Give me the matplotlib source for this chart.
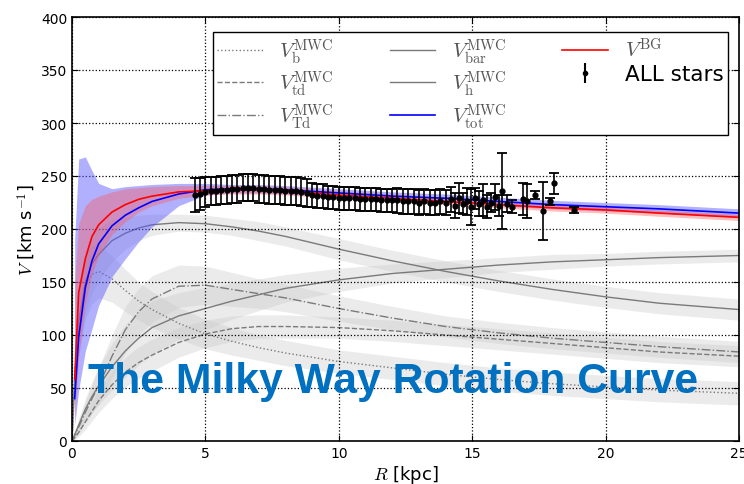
import numpy as np
import matplotlib
matplotlib.use("Agg")
import matplotlib.pyplot as plt
from matplotlib.lines import Line2D

plt.rcParams['mathtext.fontset'] = 'cm'
plt.rcParams['font.family'] = ['DejaVu Sans']

# Radial grid for the mass-model components [kpc]
R_grid = [0, 0.1, 0.25, 0.5, 0.75, 1, 1.5, 2, 2.5, 3, 4, 5, 6, 7, 8, 10, 12, 14, 16, 18, 20, 22, 25]

# Component circular velocities [km/s] and their half-widths
V_b   = [0, 60, 110, 145, 157, 160, 153, 142, 132, 124, 111, 101, 94, 88, 83, 75, 69, 63, 58, 54, 51, 48, 45]
V_td  = [0, 3, 8, 18, 28, 38, 53, 65, 74, 81, 93, 101, 106, 108, 108, 107, 104, 100, 96, 92, 88, 84, 80]
V_Td  = [0, 5, 13, 27, 40, 52, 80, 105, 122, 134, 146, 147, 143, 139, 135, 125, 116, 108, 102, 97, 93, 89, 84]
V_bar = [0, 60, 112, 150, 167, 176, 189, 196, 201, 204, 206, 205, 202, 198, 193, 181, 170, 160, 151, 143, 136, 130, 124]
V_h   = [0, 6, 15, 30, 42, 52, 70, 85, 97, 107, 118, 125, 132, 138, 144, 152, 158, 162, 166, 169, 171, 173, 175]

err_b   = [0, 20, 30, 30, 28, 25, 22, 20, 18, 17, 15, 14, 13, 12, 12, 11, 11, 11, 11, 11, 11, 11, 11]
err_td  = [0, 2, 4, 7, 9, 11, 13, 14, 15, 15, 14, 13, 12, 11, 11, 10, 10, 10, 10, 10, 10, 10, 10]
err_Td  = [0, 3, 6, 10, 14, 17, 20, 22, 22, 22, 20, 18, 16, 14, 13, 12, 11, 10, 10, 10, 10, 10, 10]
err_bar = [0, 20, 30, 30, 28, 25, 20, 15, 12, 10, 8, 8, 8, 9, 9, 10, 10, 10, 10, 10, 10, 10, 10]
err_h   = [0, 3, 6, 10, 14, 18, 22, 25, 25, 25, 22, 20, 17, 15, 13, 11, 9, 8, 7, 7, 6, 6, 6]

# Total model and Bayesian fit curves
R_fit   = [0.1, 0.25, 0.5, 0.75, 1, 1.5, 2, 2.5, 3, 4, 5, 6, 7, 8, 10, 12, 14, 16, 18, 20, 22, 25]
V_tot   = [40, 98, 145, 170, 186, 203, 213, 220, 226, 233, 237, 238, 238, 237, 234, 231, 229, 226, 223, 221, 219, 215]
tot_lo  = [15, 48, 85, 106, 128, 155, 172, 188, 202, 222, 232, 234, 234, 233, 230, 227, 225, 222, 219, 217, 215, 211]
tot_hi  = [190, 266, 268, 255, 243, 238, 240, 241, 242, 243, 243, 242, 242, 241, 238, 235, 233, 230, 227, 225, 223, 219]
V_BG    = [58, 140, 172, 193, 204, 216, 223, 228, 231, 235, 236, 237, 237, 236, 232, 229, 226, 223, 220, 218, 215, 211]
BG_lo   = [20, 80, 130, 158, 175, 195, 207, 216, 222, 229, 232, 233, 233, 232, 229, 226, 223, 220, 217, 215, 212, 208]
BG_hi   = [150, 205, 222, 228, 231, 235, 238, 239, 240, 241, 241, 241, 241, 240, 236, 233, 230, 227, 224, 221, 218, 214]

# Binned rotation-curve measurements
R_stars = [4.6, 4.8, 5.0, 5.2, 5.4, 5.6, 5.8, 6.0, 6.2, 6.4, 6.6, 6.8, 7.0, 7.2, 7.4, 7.6,
           7.8, 8.0, 8.2, 8.4, 8.6, 8.8, 9.0, 9.2, 9.4, 9.6, 9.8, 10.0, 10.2, 10.4, 10.6, 10.8,
           11.0, 11.2, 11.4, 11.6, 11.8, 12.0, 12.2, 12.4, 12.6, 12.8, 13.0, 13.2, 13.4, 13.6,
           13.8, 14.0, 14.2, 14.35, 14.5, 14.65, 14.8, 14.95, 15.1, 15.25, 15.4, 15.55, 15.7,
           15.85, 16.0, 16.1, 16.3, 16.5, 16.9, 17.05, 17.35, 17.65, 17.9, 18.05, 18.8]
V_stars = [232, 233, 235, 236, 236, 237, 237, 238, 238, 239, 239, 239, 238, 238, 237, 237,
           237, 236, 236, 236, 235, 234, 232, 231, 231, 230, 230, 229, 229, 229, 229, 228,
           228, 228, 228, 227, 227, 227, 227, 226, 226, 226, 225, 226, 225, 225,
           226, 225, 228, 222, 229, 224, 226, 221, 229, 224, 227, 221, 225,
           230, 222, 236, 224, 221, 228, 226, 232, 217, 226, 243, 218]
E_stars = [16, 15, 14, 13, 13, 13, 13, 13, 13, 13, 13, 13, 13, 13, 13, 13,
           13, 13, 13, 13, 13, 13, 11, 11, 11, 11, 11, 11, 11, 11, 11, 11,
           11, 11, 11, 11, 11, 11, 12, 12, 12, 12, 12, 12, 12, 12,
           12, 12, 12, 12, 14, 10, 13, 17, 10, 12, 15, 11, 9,
           12, 10, 36, 8, 6, 15, 16, 4, 27, 3, 10, 3]

x_ticks = [0, 5, 10, 15, 20, 25]
y_ticks = [0, 50, 100, 150, 200, 250, 300, 350, 400]

fig = plt.figure(figsize=(7.44, 4.85), dpi=100)
ax = fig.add_axes([72 / 744, 43 / 485, 667 / 744, 424 / 485])

gray = '#7a7a7a'
band_gray = '#c8c8c8'

components = [
    (V_b, err_b, ':'),
    (V_td, err_td, '--'),
    (V_Td, err_Td, '-.'),
    (V_bar, err_bar, '-'),
    (V_h, err_h, '-'),
]
Rg = np.array(R_grid)
for v, e, ls in components:
    v = np.array(v, float)
    e = np.array(e, float)
    ax.fill_between(Rg, v - e, v + e, color=band_gray, alpha=0.35, lw=0, zorder=1)
for v, e, ls in components:
    ax.plot(Rg, v, ls=ls, color=gray, lw=1.0, zorder=2)

ax.fill_between(R_fit, tot_lo, tot_hi, color='#5a5aff', alpha=0.48, lw=0, zorder=3)
ax.fill_between(R_fit, BG_lo, BG_hi, color='#ff5a5a', alpha=0.4, lw=0, zorder=3)
ax.plot(R_fit, V_tot, color='blue', lw=1.2, zorder=4)
ax.plot(R_fit, V_BG, color='red', lw=1.2, zorder=4)

ax.errorbar(R_stars, V_stars, yerr=E_stars, fmt='o', color='black', ms=3.5,
            elinewidth=1.2, capsize=3.8, capthick=1.3, zorder=5)

ax.set_xlim(0, 25)
ax.set_ylim(0, 400)
ax.set_xticks(x_ticks)
ax.set_yticks(y_ticks)
ax.tick_params(direction='in', top=True, right=True, labelsize=10, length=4)
ax.grid(True, color='black', linestyle=':', lw=0.9)
ax.set_axisbelow(False)
for s in ax.spines.values():
    s.set_linewidth(1.2)
    s.set_zorder(6)

ax.set_xlabel(r'$R$ [kpc]', fontsize=13, labelpad=2)
ax.set_ylabel(r'$V$ [km s$^{-1}$]', fontsize=13, labelpad=2)

handles = [
    Line2D([], [], color=gray, ls=':', lw=1.0),
    Line2D([], [], color=gray, ls='--', lw=1.0),
    Line2D([], [], color=gray, ls='-.', lw=1.0),
    Line2D([], [], color=gray, ls='-', lw=1.0),
    Line2D([], [], color=gray, ls='-', lw=1.0),
    Line2D([], [], color='blue', ls='-', lw=1.2),
    Line2D([], [], color='red', ls='-', lw=1.2),
]
labels = [
    r'$V_{\rm b}^{\rm MWC}$',
    r'$V_{\rm td}^{\rm MWC}$',
    r'$V_{\rm Td}^{\rm MWC}$',
    r'$V_{\rm bar}^{\rm MWC}$',
    r'$V_{\rm h}^{\rm MWC}$',
    r'$V_{\rm tot}^{\rm MWC}$',
    r'$V^{\rm BG}$',
]
eb = ax.errorbar([], [], yerr=[], fmt='o', color='black', ms=3, capsize=3)
handles.append(eb)
labels.append('ALL stars')

leg = ax.legend(handles, labels, ncol=3, loc='upper left',
                bbox_to_anchor=(0.211, 0.7, 0.772, 0.2646), mode='expand',
                fontsize=15, frameon=True, fancybox=False, edgecolor='black',
                framealpha=1.0, handlelength=2.2, handletextpad=0.8,
                borderaxespad=0.0, labelspacing=0.15, borderpad=0.2)
leg.get_frame().set_linewidth(1.0)
leg.set_zorder(7)
for t in leg.get_texts()[:-1]:
    t.set_color('#555555')
leg.get_texts()[-1].set_fontsize(15.5)

fig.text(88 / 744, (485 - 393) / 485, 'The Milky Way Rotation Curve',
         color='#0070C0', fontsize=30.7, fontweight='bold',
         family=['Liberation Sans', 'DejaVu Sans'], va='baseline', ha='left', zorder=10)

fig.savefig('out.png', dpi=100)
